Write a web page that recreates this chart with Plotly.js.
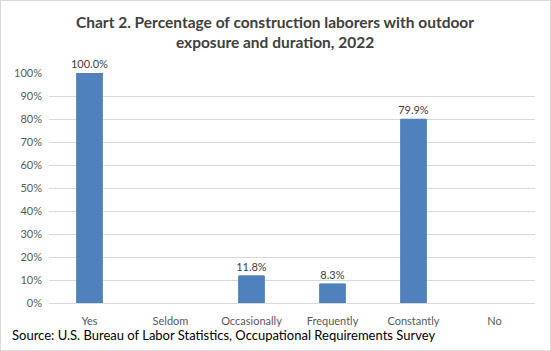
<!DOCTYPE html>
<html>
<head>
<meta charset="utf-8">
<script src="https://cdn.plot.ly/plotly-3.0.1.min.js"></script>
<style>
  html, body { margin: 0; padding: 0; background: #fff; }
  #wrap { position: relative; width: 551px; height: 351px; }
  #chart { width: 551px; height: 351px; }
  #frame { position: absolute; left: 0; top: 0; width: 549px; height: 349px; border: 1px solid #d9d9d9; pointer-events: none; }
</style>
</head>
<body>
<div id="wrap"><div id="chart"></div><div id="frame"></div></div>
<script>
const categories = ["Yes", "Seldom", "Occasionally", "Frequently", "Constantly", "No"];
const values = [1.000, null, 0.118, 0.083, 0.799, null];
const labels = ["100.0%", "", "11.8%", "8.3%", "79.9%", ""];
const yTickVals = [0, 0.1, 0.2, 0.3, 0.4, 0.5, 0.6, 0.7, 0.8, 0.9, 1.0];
const yTickText = ["0%", "10%", "20%", "30%", "40%", "50%", "60%", "70%", "80%", "90%", "100%"];
const titleText = "<b>Chart 2. Percentage of construction laborers with outdoor<br>exposure and duration, 2022</b>";
const sourceText = "Source: U.S. Bureau of Labor Statistics, Occupational Requirements Survey";

const FONT = "Lato, 'Open Sans', sans-serif";

const trace = {
  type: "bar",
  x: categories,
  y: values,
  text: labels,
  textposition: "outside",
  constraintext: "none",
  cliponaxis: false,
  textfont: { family: FONT, size: 11, color: "#404040" },
  marker: { color: "#4F81BD", line: { color: "#4A7EBB", width: 1 } },
  hoverinfo: "skip"
};

const layout = {
  width: 551,
  height: 351,
  margin: { l: 49, r: 16, t: 73, b: 48 },
  paper_bgcolor: "#ffffff",
  plot_bgcolor: "#ffffff",
  bargap: 0.684,
  showlegend: false,
  font: { family: FONT, color: "#595959" },
  xaxis: {
    type: "category",
    showgrid: false,
    showline: false,
    zeroline: false,
    ticks: "",
    tickfont: { family: FONT, size: 11, color: "#595959" },
    ticklabelstandoff: 10
  },
  yaxis: {
    range: [0, 1],
    tickvals: yTickVals,
    ticktext: yTickText,
    showgrid: true,
    gridcolor: "#d9d9d9",
    gridwidth: 1,
    zeroline: true,
    zerolinecolor: "#d9d9d9",
    zerolinewidth: 1,
    showline: false,
    ticks: "",
    tickfont: { family: FONT, size: 11, color: "#595959" },
    ticklabelstandoff: 6
  },
  annotations: [
    {
      text: titleText,
      xref: "paper", yref: "paper",
      x: 0.465, y: 1.178,
      xanchor: "center", yanchor: "middle",
      showarrow: false,
      font: { family: FONT, size: 15.5, color: "#404040" }
    },
    {
      text: sourceText,
      xref: "paper", yref: "paper",
      x: -0.0802, y: -0.139,
      xanchor: "left", yanchor: "middle",
      showarrow: false,
      font: { family: FONT, size: 13, color: "#000000" }
    }
  ]
};

Plotly.newPlot("chart", [trace], layout, { staticPlot: true, displayModeBar: false });
</script>
</body>
</html>
